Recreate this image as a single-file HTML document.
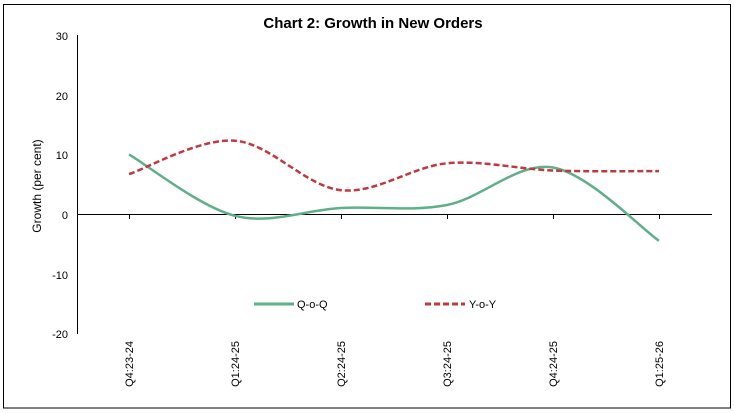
<!DOCTYPE html>
<html><head><meta charset="utf-8"><style>
html,body{margin:0;padding:0;background:#fff;}
svg{display:block;font-family:"Liberation Sans",Arial,sans-serif;}
</style></head><body>
<svg width="734" height="413" viewBox="0 0 734 413" xmlns="http://www.w3.org/2000/svg">
<rect x="3.5" y="4.5" width="727" height="403.5" fill="#fff" stroke="#000" stroke-width="1"/>
<text x="373" y="28" text-anchor="middle" font-size="15" font-weight="bold">Chart 2: Growth in New Orders</text>
<line x1="77.5" y1="35" x2="77.5" y2="334" stroke="#000" stroke-width="1"/>
<line x1="77" y1="214.5" x2="712" y2="214.5" stroke="#000" stroke-width="1"/>
<g font-size="11" text-anchor="end">
<text x="68" y="40">30</text>
<text x="68" y="100">20</text>
<text x="68" y="159">10</text>
<text x="68" y="219">0</text>
<text x="68" y="279">-10</text>
<text x="68" y="338">-20</text>
</g>
<text transform="translate(41,186) rotate(-90)" text-anchor="middle" font-size="12">Growth (per cent)</text>
<g stroke="#000" stroke-width="1">
<line x1="129.5" y1="214" x2="129.5" y2="219"/>
<line x1="235.5" y1="214" x2="235.5" y2="219"/>
<line x1="341.5" y1="214" x2="341.5" y2="219"/>
<line x1="447.5" y1="214" x2="447.5" y2="219"/>
<line x1="553.5" y1="214" x2="553.5" y2="219"/>
<line x1="659.5" y1="214" x2="659.5" y2="219"/>
</g>
<g font-size="11" text-anchor="end">
<text transform="translate(133,341) rotate(-90)">Q4:23-24</text>
<text transform="translate(239,341) rotate(-90)">Q1:24-25</text>
<text transform="translate(345,341) rotate(-90)">Q2:24-25</text>
<text transform="translate(451,341) rotate(-90)">Q3:24-25</text>
<text transform="translate(557,341) rotate(-90)">Q4:24-25</text>
<text transform="translate(663,341) rotate(-90)">Q1:25-26</text>
</g>
<path d="M129,154.4 C146.7,164.6 199.7,206.9 235,215.8 C270.3,224.7 305.7,209.8 341,208 C376.3,206.2 411.7,211.75 447,205 C482.3,198.25 517.7,161.5 553,167.5 C588.3,173.5 641.3,228.6 659,240.8" fill="none" stroke="#5fb08a" stroke-width="2.5"/>
<path d="M129,174.1 C146.7,168.5 199.7,138 235,140.7 C270.3,143.4 305.7,186.4 341,190.2 C376.3,194 411.7,166.6 447,163.3 C482.3,160 517.7,169.2 553,170.5 C588.3,171.8 641.3,171 659,171.1" fill="none" stroke="#c0393f" stroke-width="2.5" stroke-dasharray="6,3"/>
<line x1="254" y1="304" x2="294" y2="304" stroke="#5fb08a" stroke-width="3"/>
<text x="297" y="308" font-size="11">Q-o-Q</text>
<line x1="425" y1="304" x2="465" y2="304" stroke="#c0393f" stroke-width="3" stroke-dasharray="6,3"/>
<text x="469" y="308" font-size="11">Y-o-Y</text>
</svg>
</body></html>
